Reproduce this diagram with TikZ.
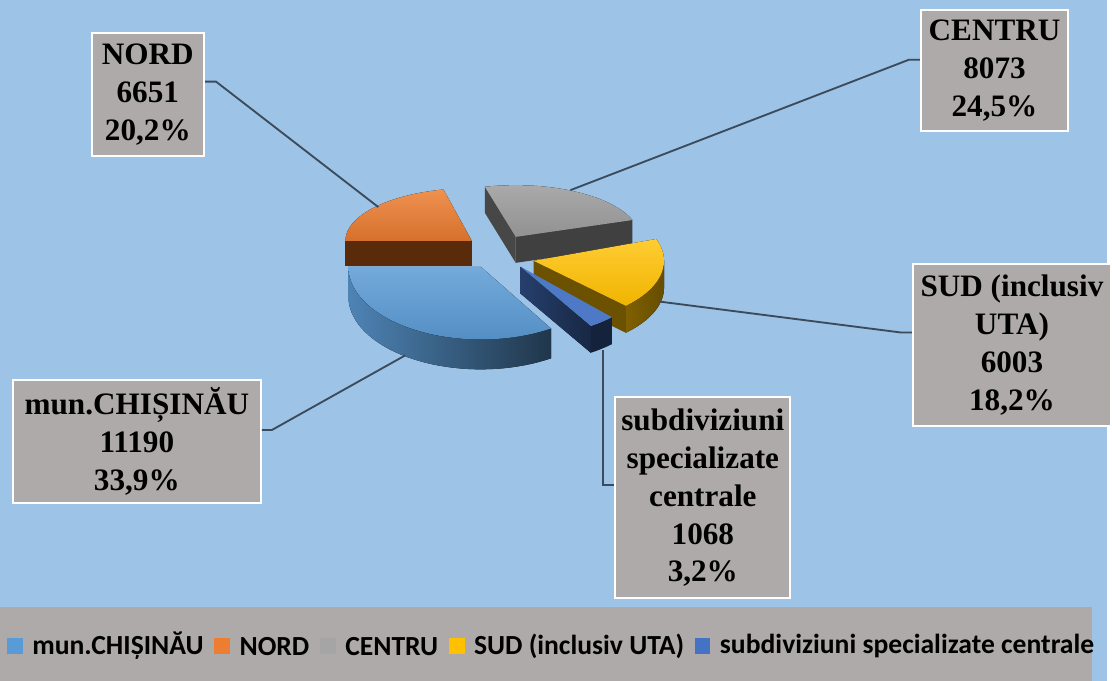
\documentclass[tikz,border=0pt]{standalone}
\usepackage{fontspec}
\usetikzlibrary{positioning}
\newfontfamily\lblfont{Liberation Serif}
\newfontfamily\keyfont{Carlito}
\definecolor{bgblue}{HTML}{9DC3E6}
\definecolor{boxgray}{HTML}{AEAAAA}
\definecolor{leadline}{HTML}{3C4B5C}
\definecolor{chisblue}{HTML}{5B9BD5}
\definecolor{nordorange}{HTML}{ED7D31}
\definecolor{nordside}{HTML}{5A2B0B}
\definecolor{centrugray}{HTML}{A5A5A5}
\definecolor{sudyellow}{HTML}{FFC000}
\definecolor{subdivblue}{HTML}{4472C4}
% top face, curved rim and flat side of one slice: apex (x,y), angles, radii, height
\def\slicetop[#1](#2,#3)(#4:#5:#6:#7){\fill[#1] (#2,#3) -- plot[domain=#4:#5,samples=40] ({#2+#6*cos(\x)},{#3+#7*sin(\x)}) -- cycle;}
\def\slicerim[#1](#2,#3)(#4:#5:#6:#7:#8){\fill[#1] plot[domain=#4:#5,samples=40] ({#2+#6*cos(\x)},{#3+#7*sin(\x)}) -- plot[domain=#5:#4,samples=40] ({#2+#6*cos(\x)},{#3+#8+#7*sin(\x)}) -- cycle;}
\def\sliceside[#1](#2,#3)(#4:#5:#6:#7){\fill[#1] (#2,#3) -- ({#2+#5*cos(#4)},{#3+#6*sin(#4)}) -- ++(0,#7) -- (#2,{#3+#7}) -- cycle;}
\tikzset{
	lbl/.style={draw=white, line width=1.5pt, fill=boxgray, align=center, inner sep=0pt,
		font=\lblfont\bfseries\fontsize{23.5pt}{28.5pt}\selectfont},
	leader/.style={draw=leadline, line width=1.4pt},
	keysq/.style={minimum size=12pt, inner sep=0pt},
	keytxt/.style={inner sep=0pt, font=\keyfont\bfseries\fontsize{20.8pt}{24pt}\selectfont}
}
\begin{document}
\begin{tikzpicture}[x=0.75pt,y=-0.75pt]
			%%%%% START %%%%%
			
			\fill[bgblue] (0,0) rectangle (1112,684);
			
			% NORD
			\sliceside[color=nordside](474,242)(180:127:53:25);
			\slicetop[top color=nordorange!85!white, bottom color=nordorange!90!black](474,242)(180:257:127:53);
			
			% CENTRU
			\sliceside[color=black!72](518,238)(255.5:124:52:26);
			\sliceside[color=black!75](518,238)(341:124:52:26);
			\slicetop[top color=centrugray!95!white, bottom color=centrugray!88!black](518,238)(255.5:341:124:52);
			
			% SUD
			\slicerim[left color=sudyellow!50!black, right color=sudyellow!40!black](536,262)(0:45:131:64:27);
			\sliceside[color=sudyellow!42!black](536,262)(45:131:64:27);
			\slicetop[top color=sudyellow!80!white, bottom color=sudyellow!94!black](536,262)(-20:45:131:64);
			
			% subdiviziuni
			\sliceside[left color=subdivblue!55!black, right color=subdivblue!35!black](523,268)(58:133:70:27);
			\slicerim[color=subdivblue!30!black](523,268)(46.4:58:133:70:27);
			\slicetop[color=subdivblue!95!white](523,268)(46.4:58:133:70);
			
			% mun.CHISINAU
			\slicerim[left color=chisblue!85!black, right color=chisblue!35!black](483,268)(58:180:133:73:30);
			\slicetop[top color=chisblue!85!white, bottom color=chisblue!92!black](483,268)(58:180:133:73);
			
			% labels
			\node[lbl, minimum width=84.75pt, minimum height=93pt] (nord) at (148.5,95) {NORD\\6651\\20,2\%};
			\node[lbl, minimum width=111pt, minimum height=91.5pt] (centru) at (999,71) {CENTRU\\8073\\24,5\%};
			\node[lbl, minimum width=149.25pt, minimum height=122.25pt] (sud) at (1016.5,346.5) {SUD (inclusiv\\UTA)\\6003\\18,2\%};
			\node[lbl, minimum width=186.75pt, minimum height=92.25pt] (chisinau) at (137.5,443.5) {mun.CHIȘINĂU\\11190\\33,9\%};
			\node[lbl, minimum width=132pt, minimum height=151.5pt] (subdiv) at (706,500) {subdiviziuni\\specializate\\centrale\\1068\\3,2\%};
			
			% leader lines
			\coordinate (pnord) at (380,208);
			\coordinate (knord) at (217,82);
			\coordinate (pcentru) at (573,191);
			\coordinate (kcentru) at (913,60);
			\coordinate (psud) at (663,303);
			\coordinate (ksud) at (905,334);
			\coordinate (pchis) at (407,357);
			\coordinate (kchis) at (273,432);
			\coordinate (psub) at (606,352);
			\coordinate (ksub) at (606,487);
			\draw[leader] (pnord) -- (knord) -- (nord.east |- knord);
			\draw[leader] (pcentru) -- (kcentru) -- (centru.west |- kcentru);
			\draw[leader] (psud) -- (ksud) -- (sud.west |- ksud);
			\draw[leader] (pchis) -- (kchis) -- (chisinau.east |- kchis);
			\draw[leader] (psub) -- (ksub) -- (subdiv.west |- ksub);
			
			% legend
			\fill[boxgray] (0,610) rectangle (1097,684);
			\node[keysq, fill=chisblue] (k1) at (15,649) {};
			\node[keytxt, right=6.75pt of k1] (t1) {mun.CHIȘINĂU};
			\node[keysq, fill=nordorange, right=7.5pt of t1] (k2) {};
			\node[keytxt, right=6.75pt of k2] (t2) {NORD};
			\node[keysq, fill=centrugray, right=7.5pt of t2] (k3) {};
			\node[keytxt, right=6.75pt of k3] (t3) {CENTRU};
			\node[keysq, fill=sudyellow, right=7.5pt of t3] (k4) {};
			\node[keytxt, right=6.75pt of k4] (t4) {SUD (inclusiv UTA)};
			\node[keysq, fill=subdivblue, right=7.5pt of t4] (k5) {};
			\node[keytxt, right=6.75pt of k5] (t5) {subdiviziuni specializate centrale};
			
			%%%%% END %%%%%
		\end{tikzpicture}
\end{document}
